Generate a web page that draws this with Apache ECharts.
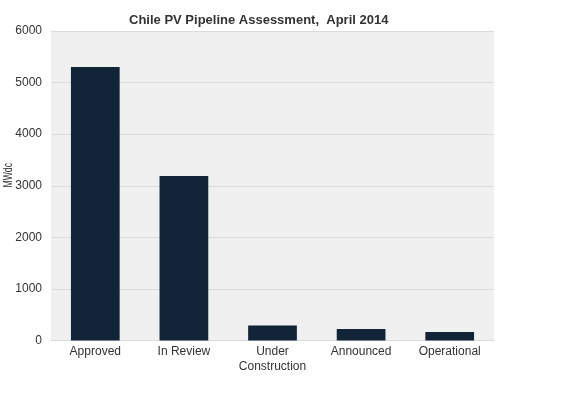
<!DOCTYPE html>
<html><head><meta charset="utf-8">
<script src="https://cdn.jsdelivr.net/npm/echarts@6/dist/echarts.min.js"></script>
<style>html,body{margin:0;padding:0;background:#fff}#c{width:562px;height:394px}</style>
</head><body><div id="c"></div>
<script>
const categories = ['Approved', 'In Review', 'Under\nConstruction', 'Announced', 'Operational'];
const values = [5300, 3190, 290, 225, 165];
const yTicks = [0, 1000, 2000, 3000, 4000, 5000, 6000];
const titleText = 'Chile PV Pipeline Assessment,  April 2014';
const yName = 'MWdc';

const chart = echarts.init(document.getElementById('c'), null, {renderer: 'canvas'});
const font = 'Arial, "Liberation Sans", sans-serif';
chart.setOption({
  animation: false,
  backgroundColor: '#ffffff',
  title: {
    text: titleText, left: 124, top: 9,
    textStyle: {fontFamily: font, fontSize: 13, fontWeight: 'bold', color: '#333333'}
  },
  grid: {left: 51, right: 68, top: 31, bottom: 53.5, show: true, backgroundColor: '#f0f0f0', borderWidth: 0},
  graphic: [{
    type: 'text', left: 3, top: 163, rotation: Math.PI / 2, scaleX: 0.72,
    style: {text: yName, font: '12px Arial, "Liberation Sans", sans-serif', fill: '#333333'}
  }],
  xAxis: {
    type: 'category', data: categories,
    axisLine: {show: true, lineStyle: {color: '#dcdcdc', width: 1}},
    axisTick: {show: false},
    axisLabel: {fontFamily: font, fontSize: 12, color: '#333333', margin: 4, lineHeight: 15, interval: 0}
  },
  yAxis: {
    type: 'value', min: yTicks[0], max: yTicks[yTicks.length - 1], interval: 1000,
    axisLine: {show: false}, axisTick: {show: false},
    axisLabel: {fontFamily: font, fontSize: 12, color: '#333333', margin: 9, formatter: v => String(v)},
    splitLine: {lineStyle: {color: '#dcdcdc', width: 1}}
  },
  series: [{
    type: 'bar', data: values, barWidth: '55%',
    itemStyle: {color: '#122538'}
  }]
});
</script></body></html>
